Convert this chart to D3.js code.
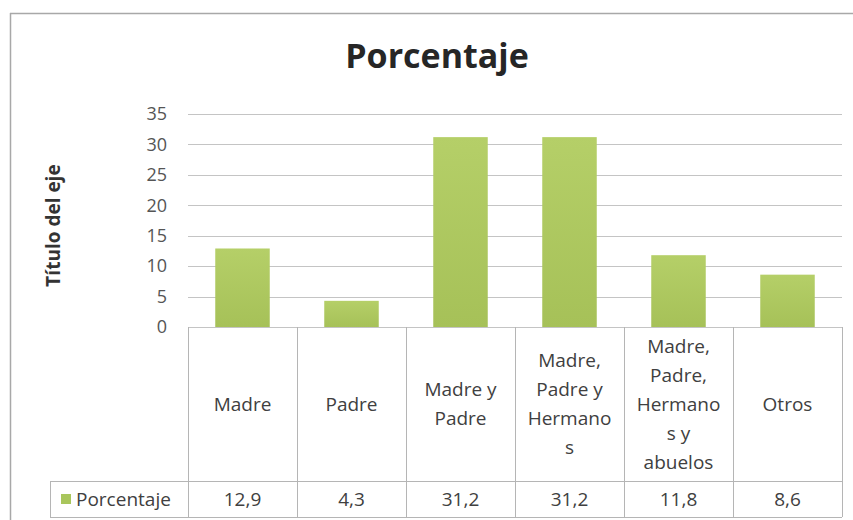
<!DOCTYPE html>
<html>
<head>
<meta charset="utf-8">
<script src="https://cdn.jsdelivr.net/npm/d3@7"></script>
<style>
  body { margin: 0; background: #fff; }
  svg { display: block; font-family: "Open Sans", Lato, sans-serif; }
</style>
</head>
<body>
<div class="chart"></div>
<script>
// data
var categories = ["Madre", "Padre", "Madre y Padre", "Madre, Padre y Hermanos",
                  "Madre, Padre, Hermanos y abuelos", "Otros"];
var categoryLines = [["Madre"], ["Padre"], ["Madre y", "Padre"],
                     ["Madre,", "Padre y", "Hermano", "s"],
                     ["Madre,", "Padre,", "Hermano", "s y", "abuelos"], ["Otros"]];
var values = [12.9, 4.3, 31.2, 31.2, 11.8, 8.6];
var valueLabels = ["12,9", "4,3", "31,2", "31,2", "11,8", "8,6"];
var yTicks = [0, 5, 10, 15, 20, 25, 30, 35];
var seriesName = "Porcentaje";

var W = 853, H = 520;
var margin = {top: 114, right: 11, bottom: 193, left: 188}
  , width = W - margin.left - margin.right
  , height = H - margin.top - margin.bottom;

var svg = d3.select(".chart").append("svg")
    .attr("width", W)
    .attr("height", H);

var defs = svg.append("defs");
var grad = defs.append("linearGradient")
    .attr("id", "barGrad")
    .attr("x1", 0).attr("y1", 0).attr("x2", 0).attr("y2", 1);
grad.append("stop").attr("offset", "0%").attr("stop-color", "#b5cf68");
grad.append("stop").attr("offset", "100%").attr("stop-color", "#a6c158");

// outer chart frame (top + left edge visible)
svg.append("line")
    .attr("x1", 10).attr("x2", W).attr("y1", 13.5).attr("y2", 13.5)
    .style("stroke", "#a8a8a8").style("stroke-width", 1.5);
svg.append("line")
    .attr("x1", 10.5).attr("x2", 10.5).attr("y1", 13).attr("y2", H)
    .style("stroke", "#a8a8a8").style("stroke-width", 1.5);

// title
svg.append("text")
    .attr("x", 437)
    .attr("y", 68)
    .attr("text-anchor", "middle")
    .style("font-size", "34px")
    .style("font-weight", "bold")
    .style("fill", "#262626")
    .text("Porcentaje");

var g = svg.append("g")
    .attr("transform", "translate(" + margin.left + "," + margin.top + ")");

var xScale = d3.scaleBand()
    .domain(categories)
    .range([0, width])
    .paddingInner(0.5)
    .paddingOuter(0.25);

var yScale = d3.scaleLinear()
    .domain([0, 35])
    .range([height, 0]);

// gridlines
g.append("g")
    .selectAll("line")
    .data(yTicks)
  .enter().append("line")
    .attr("x1", 0)
    .attr("x2", width)
    .attr("y1", d => Math.round(yScale(d)) + 0.5)
    .attr("y2", d => Math.round(yScale(d)) + 0.5)
    .style("stroke", "#c4c4c4")
    .style("stroke-width", 1);

// y axis labels
var yAxis = g.append("g")
    .call(d3.axisLeft(yScale).tickValues(yTicks).tickSize(0).tickPadding(21));
yAxis.select(".domain").remove();
yAxis.selectAll("text")
    .style("font-family", "'Open Sans', Lato, sans-serif")
    .style("font-size", "18px")
    .style("fill", "#555");

// axis title
svg.append("text")
    .attr("transform", "translate(60," + (margin.top + height / 2 + 5) + ") rotate(-90)")
    .attr("text-anchor", "middle")
    .style("font-size", "19px")
    .style("font-weight", "bold")
    .style("fill", "#333")
    .text("Título del eje");

// bars
g.selectAll(".bar")
    .data(values)
  .enter().append("rect")
    .attr("class", "bar")
    .attr("x", (d, i) => xScale(categories[i]))
    .attr("width", xScale.bandwidth())
    .attr("y", d => yScale(d))
    .attr("height", d => height - yScale(d))
    .style("fill", "url(#barGrad)");

// data table under the plot
var step = xScale.step();
var rowTop = height, rowMid = height + 154, rowBot = height + 190;
var tbl = g.append("g").style("stroke", "#b5b5b5").style("stroke-width", 1);

// vertical column dividers
tbl.selectAll(".vline")
    .data(d3.range(categories.length + 1))
  .enter().append("line")
    .attr("x1", i => i * step + 0.5)
    .attr("x2", i => i * step + 0.5)
    .attr("y1", rowTop)
    .attr("y2", rowBot);
// horizontal lines
tbl.append("line").attr("x1", -138).attr("x2", width).attr("y1", rowMid + 0.5).attr("y2", rowMid + 0.5);
tbl.append("line").attr("x1", -138).attr("x2", width).attr("y1", rowBot + 0.5).attr("y2", rowBot + 0.5);
tbl.append("line").attr("x1", -137.5).attr("x2", -137.5).attr("y1", rowMid).attr("y2", rowBot);

// category labels in table
var lineH = 29;
var catText = g.selectAll(".cat")
    .data(categoryLines)
  .enter().append("text")
    .attr("class", "cat")
    .attr("text-anchor", "middle")
    .style("font-size", "19px")
    .style("fill", "#404040");
catText.each(function(lines, i) {
  var cx = xScale(categories[i]) + xScale.bandwidth() / 2;
  var cy = (rowTop + rowMid) / 2 - (lines.length - 1) * lineH / 2;
  d3.select(this).selectAll("tspan")
      .data(lines)
    .enter().append("tspan")
      .attr("x", cx)
      .attr("y", (d, j) => cy + j * lineH)
      .attr("dy", "0.35em")
      .text(d => d);
});

// value row
g.selectAll(".val")
    .data(valueLabels)
  .enter().append("text")
    .attr("class", "val")
    .attr("x", (d, i) => xScale(categories[i]) + xScale.bandwidth() / 2)
    .attr("y", (rowMid + rowBot) / 2)
    .attr("dy", "0.35em")
    .attr("text-anchor", "middle")
    .style("font-size", "19px")
    .style("fill", "#404040")
    .text(d => d);

// legend key in table
g.append("rect")
    .attr("x", -127)
    .attr("y", (rowMid + rowBot) / 2 - 5)
    .attr("width", 10)
    .attr("height", 10)
    .style("fill", "#a9c65c");
g.append("text")
    .attr("x", -112)
    .attr("y", (rowMid + rowBot) / 2)
    .attr("dy", "0.35em")
    .style("font-size", "19px")
    .style("fill", "#404040")
    .text(seriesName);
</script>
</body>
</html>
